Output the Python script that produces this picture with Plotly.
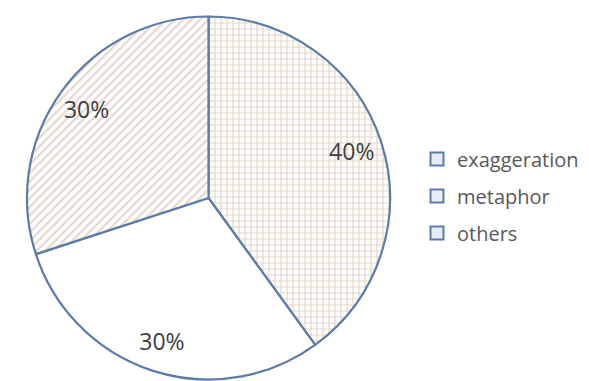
import plotly.graph_objects as go

labels = ["exaggeration", "metaphor", "others"]
values = [40, 30, 30]
pct_text = ["40%", "30%", "30%"]

edge = "#5b7ba8"
pie_domain = dict(x=[19/589, 382/589], y=[1-372/381, 1-8/381])

fig = go.Figure()
fig.add_trace(go.Pie(
    labels=labels, values=values, sort=False, direction="clockwise", rotation=0,
    textinfo="none", hoverinfo="label+percent", showlegend=False,
    domain=pie_domain,
    marker=dict(
        colors=["white", "white", "white"],
        line=dict(color=edge, width=2.2),
        pattern=dict(shape=["+", "", "/"], fgcolor="#e3d6c8", bgcolor="white",
                     size=6, solidity=0.35, fillmode="replace"),
    ),
))
# text ring for percentage labels
fig.add_trace(go.Pie(
    labels=labels, values=values, sort=False, direction="clockwise", rotation=0,
    text=pct_text, textinfo="text", textposition="inside",
    insidetextorientation="horizontal", hole=0.66, showlegend=False,
    hoverinfo="skip", domain=pie_domain,
    marker=dict(colors=["rgba(0,0,0,0)"]*3, line=dict(width=0)),
    textfont=dict(family="Open Sans", size=23, color="#404040"),
))
# legend entries
for lab in labels:
    fig.add_trace(go.Scatter(
        x=[None], y=[None], mode="markers", name=lab, legendgroup=lab,
        marker=dict(symbol="square", size=13, color="#e6edf6",
                    line=dict(color=edge, width=2)),
    ))

fig.update_layout(
    width=589, height=381, margin=dict(l=0, r=0, t=0, b=0),
    paper_bgcolor="white", plot_bgcolor="white",
    showlegend=True,
    xaxis=dict(visible=False), yaxis=dict(visible=False),
    legend=dict(x=409/589, y=1-188/381, xanchor="left", yanchor="middle",
                font=dict(family="Open Sans", size=20, color="#595959"),
                bgcolor="rgba(0,0,0,0)", traceorder="grouped", tracegroupgap=8),
)
fig.write_html("out.html")
